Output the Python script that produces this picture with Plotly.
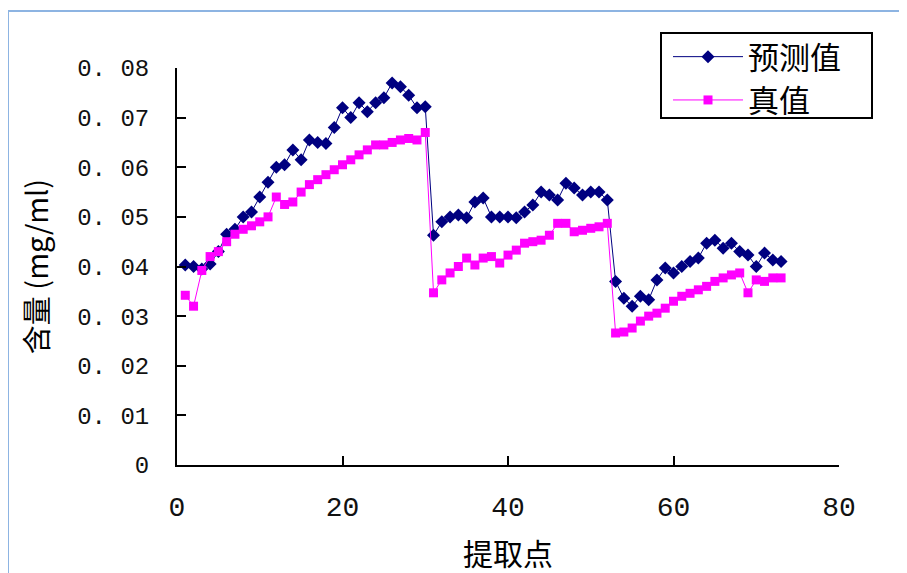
import plotly.graph_objects as go

# extraction point index
points = list(range(1, 74))

# predicted values (预测值)
predicted = [
    0.0403, 0.0400, 0.0395, 0.0405, 0.0430, 0.0465, 0.0475, 0.0500, 0.0510, 0.0540,
    0.0570, 0.0600, 0.0605, 0.0635, 0.0615, 0.0655, 0.0650, 0.0648, 0.0680, 0.0720,
    0.0700, 0.0730, 0.0712, 0.0730, 0.0740, 0.0770, 0.0762, 0.0745, 0.0720, 0.0722,
    0.0463, 0.0490, 0.0500, 0.0504, 0.0498, 0.0530, 0.0538, 0.0500, 0.0500, 0.0500,
    0.0498, 0.0510, 0.0524, 0.0550, 0.0544, 0.0534, 0.0568, 0.0558, 0.0544, 0.0550,
    0.0550, 0.0534,
    0.0370, 0.0336, 0.0320, 0.0340, 0.0333, 0.0373, 0.0397, 0.0387, 0.0400, 0.0410,
    0.0417, 0.0447, 0.0453, 0.0437, 0.0447, 0.0430, 0.0423, 0.0400, 0.0427, 0.0413,
    0.0410,
]

# true values (真值)
true_vals = [
    0.0342, 0.0320, 0.0392, 0.0420, 0.0430, 0.0450, 0.0465, 0.0475, 0.0482, 0.0490,
    0.0500, 0.0540, 0.0525, 0.0530, 0.0550, 0.0565, 0.0575, 0.0585, 0.0595, 0.0605,
    0.0615, 0.0625, 0.0635, 0.0645, 0.0645, 0.0650, 0.0655, 0.0658, 0.0655, 0.0670,
    0.0347, 0.0373, 0.0387, 0.0400, 0.0417, 0.0403, 0.0417, 0.0420, 0.0407, 0.0423,
    0.0433, 0.0447, 0.0450, 0.0453, 0.0463, 0.0487, 0.0487, 0.0470, 0.0473, 0.0477,
    0.0480, 0.0487,
    0.0266, 0.0268, 0.0276, 0.0290, 0.0300, 0.0306, 0.0316, 0.0330, 0.0340, 0.0346,
    0.0353, 0.0360, 0.0370, 0.0377, 0.0383, 0.0387, 0.0347, 0.0373, 0.0370, 0.0377,
    0.0377,
]

y_ticks = [0, 0.01, 0.02, 0.03, 0.04, 0.05, 0.06, 0.07, 0.08]
y_tick_labels = ["0", "0. 01", "0. 02", "0. 03", "0. 04", "0. 05", "0. 06", "0. 07", "0. 08"]
x_ticks = [0, 20, 40, 60, 80]
x_tick_labels = ["0", "20", "40", "60", "80"]

CJK = "Noto Sans CJK SC"
MONO = "Liberation Mono"

# page body offsets the figure by 8px; plot area in the page: x 177..839, y 68..465
OFF = 8
L, R, T, B = 177 - OFF, 907 - (839 - OFF), 68 - OFF, 573 - (465 - OFF)
PW, PH = 907 - L - R, 573 - T - B


def px_x(p):
    return (p - 177) / 662


def px_y(p):
    return (465 - p) / 397


fig = go.Figure()
fig.add_trace(go.Scatter(
    x=points, y=predicted, name="预测值", mode="lines+markers",
    line=dict(color="#000080", width=1),
    marker=dict(symbol="diamond", size=10, color="#000080"),
    legendgroup="a",
))
fig.add_trace(go.Scatter(
    x=points, y=true_vals, name="真值", mode="lines+markers",
    line=dict(color="#FF00FF", width=1),
    marker=dict(symbol="square", size=9, color="#FF00FF"),
    legendgroup="b",
))

top_line_y = px_y(11)
left_line_x = px_x(8)

fig.update_layout(
    width=907, height=573,
    margin=dict(l=L, r=R, t=T, b=B, autoexpand=False),
    paper_bgcolor="white", plot_bgcolor="white",
    font=dict(family=CJK, color="black"),
    showlegend=True,
    legend=dict(
        x=px_x(668), y=px_y(30), xanchor="left", yanchor="top",
        borderwidth=0, bgcolor="rgba(255,255,255,0)",
        font=dict(family=CJK, size=31, color="black"),
        itemwidth=70, tracegroupgap=0, traceorder="grouped",
    ),
    xaxis=dict(
        range=[0, 80], tickvals=x_ticks, ticktext=x_tick_labels,
        showgrid=False, zeroline=False, showline=True, linecolor="black", linewidth=2,
        ticks="inside", ticklen=9, tickwidth=2, tickcolor="black",
        tickfont=dict(family=MONO, size=28, color="#111"),
        ticklabelstandoff=15, automargin=False,
        title=dict(text="提取点", font=dict(family=CJK, size=30), standoff=21),
    ),
    yaxis=dict(
        range=[0, 0.08], tickvals=y_ticks, ticktext=y_tick_labels,
        showgrid=False, zeroline=False, showline=True, linecolor="black", linewidth=2,
        ticks="inside", ticklen=9, tickwidth=2, tickcolor="black",
        tickfont=dict(family=MONO, size=24, color="#111"),
        ticklabelstandoff=21, automargin=False,
        title=dict(text="含量 (mg/ml)", font=dict(family=CJK, size=29), standoff=20),
    ),
    shapes=[
        dict(type="line", xref="paper", yref="paper",
             x0=left_line_x, x1=px_x(915),
             y0=top_line_y, y1=top_line_y,
             line=dict(color="#8db4e2", width=2)),
        dict(type="line", xref="paper", yref="paper",
             x0=left_line_x, x1=left_line_x,
             y0=top_line_y, y1=px_y(600),
             line=dict(color="#8db4e2", width=2)),
        dict(type="rect", xref="paper", yref="paper",
             x0=px_x(661), x1=px_x(872), y0=px_y(118), y1=px_y(33),
             line=dict(color="black", width=2), fillcolor="rgba(0,0,0,0)",
             layer="above"),
    ],
)

fig.write_html("out.html")
